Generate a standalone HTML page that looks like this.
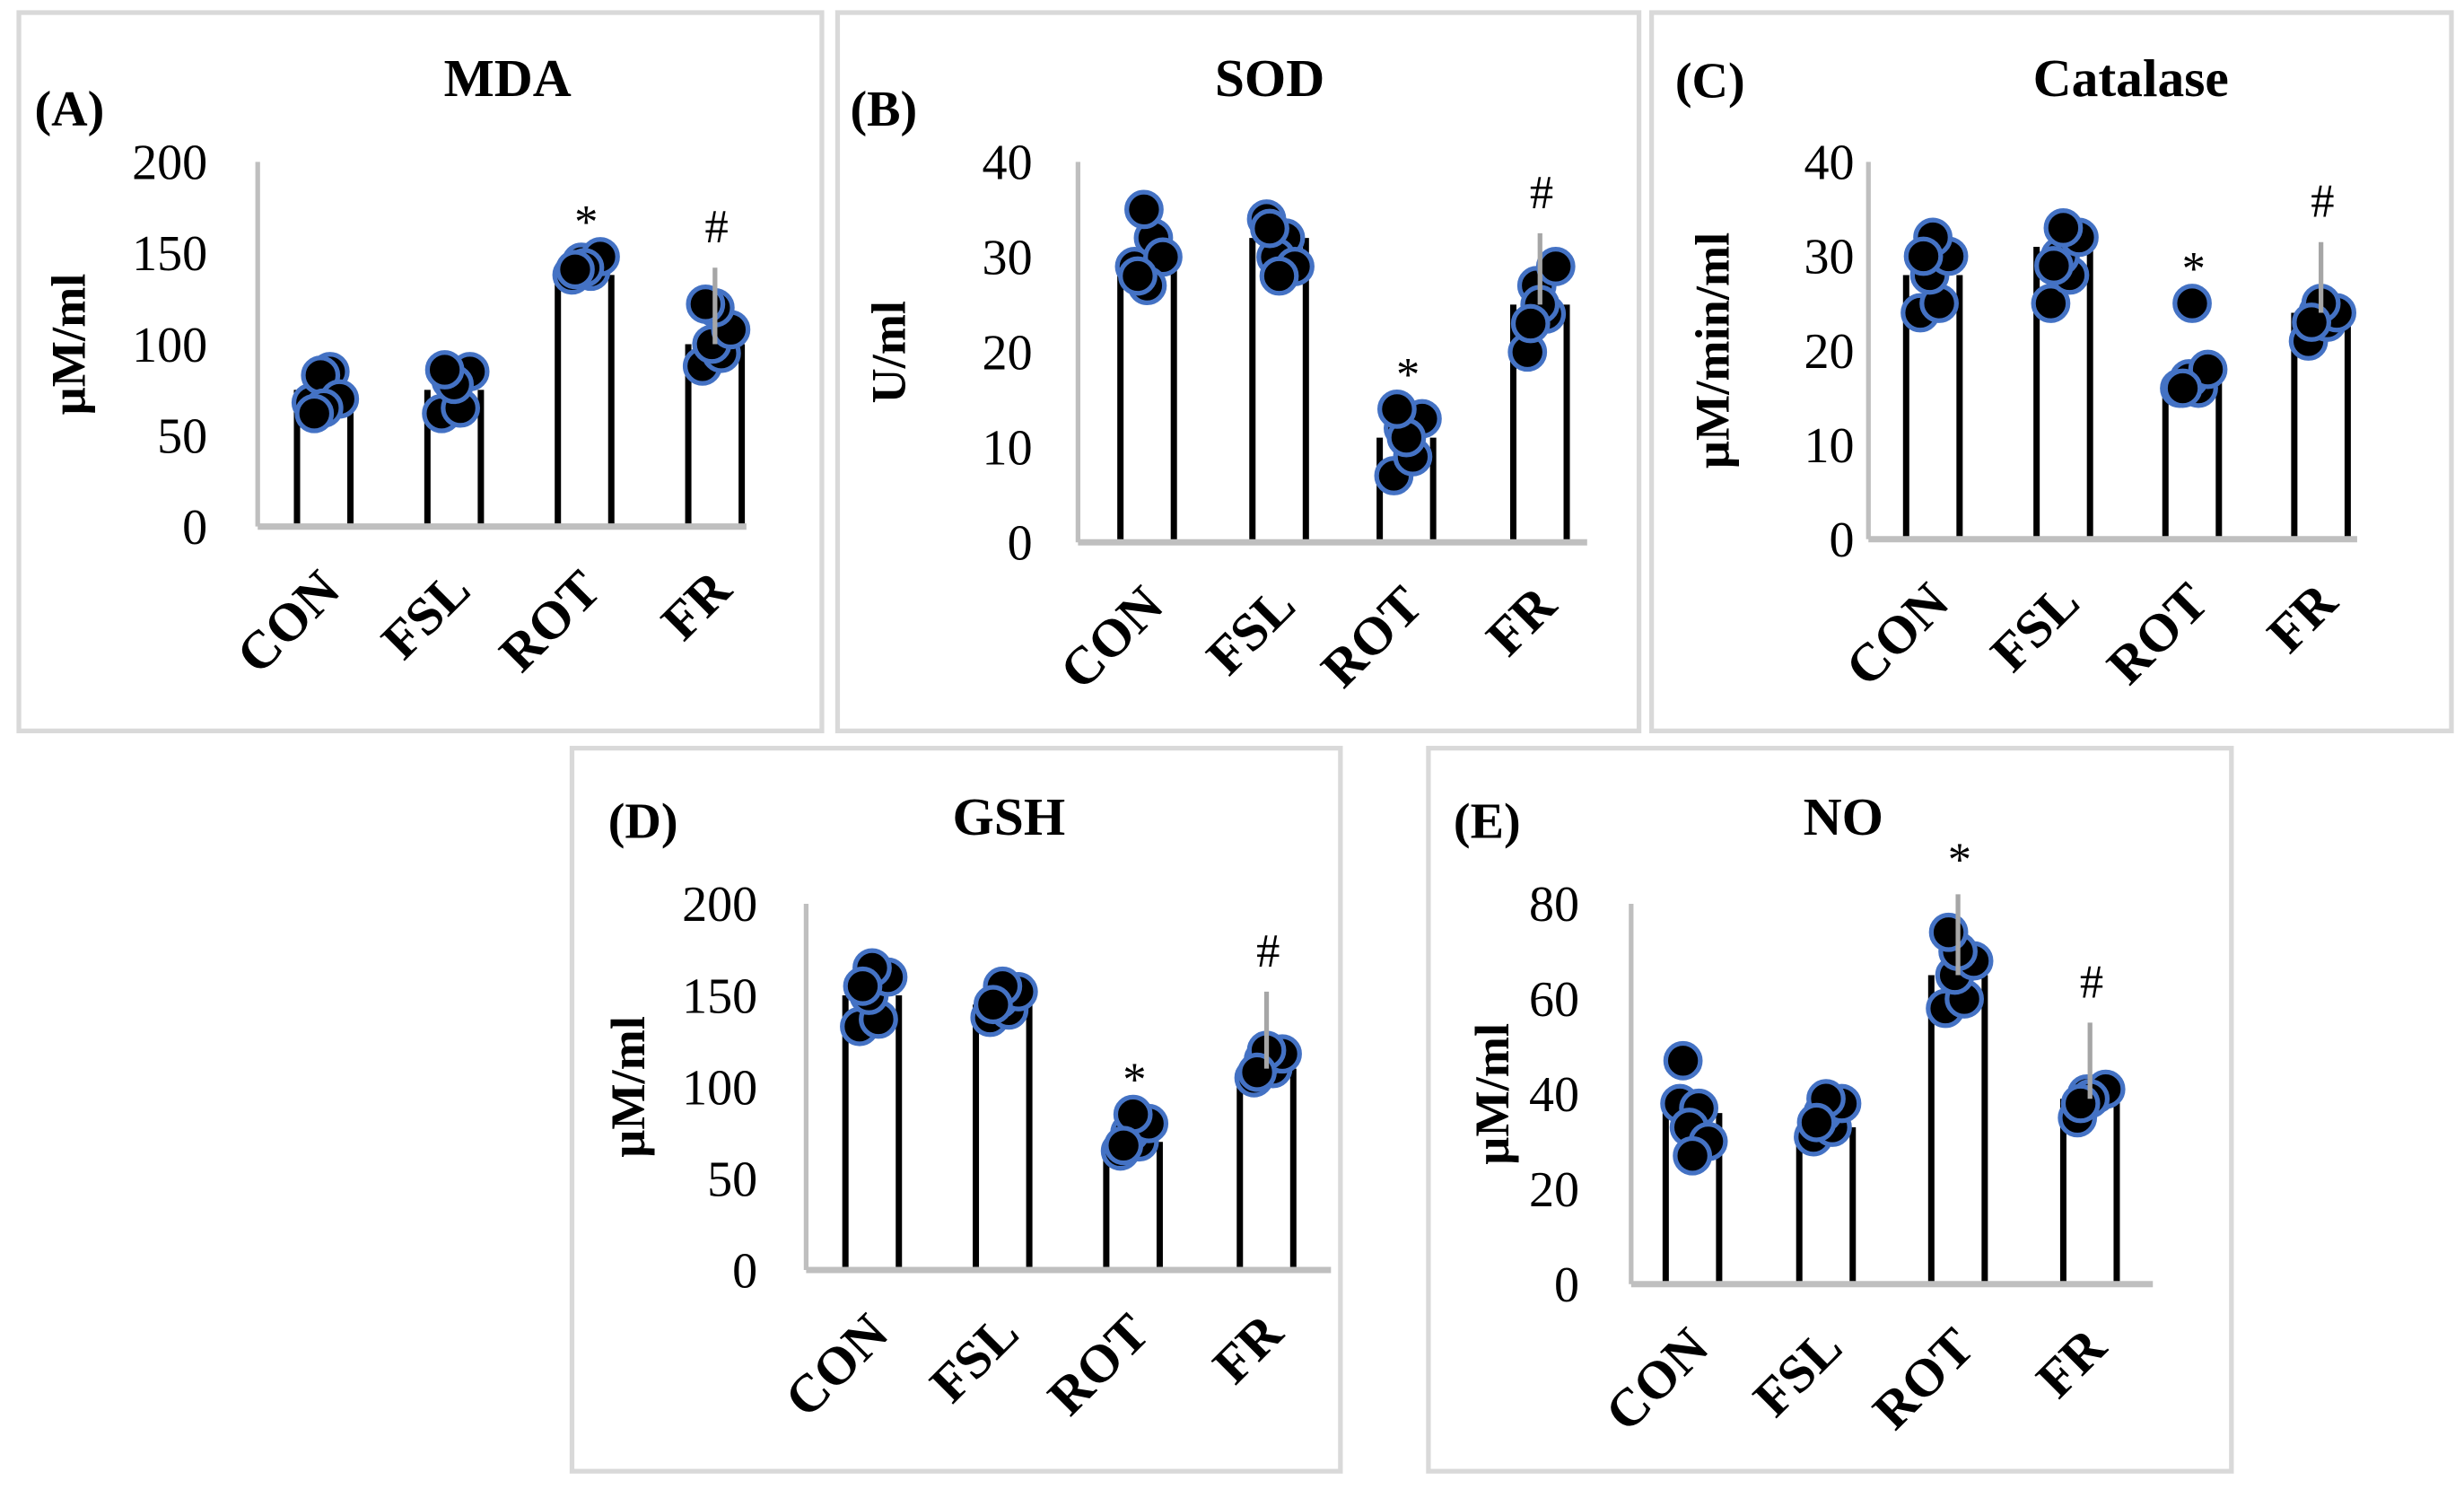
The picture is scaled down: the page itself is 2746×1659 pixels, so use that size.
<!DOCTYPE html>
<html><head><meta charset="utf-8"><style>
html,body{margin:0;padding:0;background:#fff}
svg{display:block}
text{font-family:"Liberation Serif",serif;fill:#000}
</style></head><body>
<svg id="fig" width="2746" height="1659" viewBox="0 0 1568 947.3" xmlns="http://www.w3.org/2000/svg"></svg>
<script>
const categories = ["CON","FSL","ROT","FR"];
const mdaMeans = [75, 75, 138, 100];
const mdaErr = [0, 0, 0, 142];
const mdaPts = [[68,85,83,70,65,62],[62,65,80,85,78,86],[138,140,145,148,142,141],[88,95,100,108,120,122]];
const sodMeans = [30, 32, 11, 25];
const sodErr = [0, 0, 0, 32.5];
const sodPts = [[29,32,35,30,27,28],[34,32,30,29,28,33],[7,9,12,13,11,14],[20,24,27,29,25,23]];
const catMeans = [28, 31, 17, 24];
const catErr = [0, 0, 0, 31.5];
const catPts = [[24,25,28,30,32,30],[25,28,30,32,33,29],[16,16,17,18,25,16],[21,23,24,24,25,23]];
const gshMeans = [150, 145, 70, 110];
const gshErr = [0, 0, 0, 152];
const gshPts = [[133,137,150,160,165,155],[138,142,148,152,155,145],[65,70,75,80,85,68],[105,110,115,118,120,108]];
const noMeans = [36, 33, 65, 39];
const noErr = [0, 0, 82, 55];
const noPts = [[38,37,33,30,27,47],[31,33,36,38,39,34],[58,60,65,68,70,74],[35,40,40,41,39,38]];
const yTicks5 = [0,50,100,150,200];
const yTicks40 = [0,10,20,30,40];
const yTicks80 = [0,20,40,60,80];

const NS="http://www.w3.org/2000/svg";
const svg=document.getElementById('fig');
function mk(tag,attrs,parent){const e=document.createElementNS(NS,tag);for(const k in attrs)e.setAttribute(k,attrs[k]);(parent||svg).appendChild(e);return e;}
const jitter=[-8,4,-2,10,0,-6];

const panels=[
 {id:'a',letter:'(A)',title:'MDA',ylab:'µM/ml',box:[12,8,511,457],ax:164,top:103,base:335,right:475,max:200,ticks:yTicks5,centers:[206,289,372,455],means:mdaMeans,err:mdaErr,pts:mdaPts,marks:{2:'*',3:'#'},letterX:22,letterY:80,titleX:323,titleY:61,ylabX:54,tickX:132},
 {id:'b',letter:'(B)',title:'SOD',ylab:'U/ml',box:[533,8,510,457],ax:686,top:103,base:345,right:1010,max:40,ticks:yTicks40,centers:[730,814,895,980],means:sodMeans,err:sodErr,pts:sodPts,marks:{2:'*',3:'#'},letterX:541,letterY:80,titleX:808,titleY:61,ylabX:576,tickX:657},
 {id:'c',letter:'(C)',title:'Catalase',ylab:'µM/min/ml',box:[1051,8,509,457],ax:1189,top:103,base:343,right:1500,max:40,ticks:yTicks40,centers:[1230,1313,1395,1477],means:catMeans,err:catErr,pts:catPts,marks:{2:'*',3:'#'},letterX:1066,letterY:62,titleX:1356,titleY:61,ylabX:1100,tickX:1180},
 {id:'d',letter:'(D)',title:'GSH',ylab:'µM/ml',box:[364,476,489,460],ax:513,top:575,base:808,right:847,max:200,ticks:yTicks5,centers:[555,638,721,806],means:gshMeans,err:gshErr,pts:gshPts,marks:{2:'*',3:'#'},letterX:387,letterY:533,titleX:642,titleY:531,ylabX:410,tickX:482},
 {id:'e',letter:'(E)',title:'NO',ylab:'µM/ml',box:[909,476,511,460],ax:1038,top:575,base:817,right:1370,max:80,ticks:yTicks80,centers:[1077,1162,1246,1330],means:noMeans,err:noErr,pts:noPts,marks:{2:'*',3:'#'},letterX:925,letterY:533,titleX:1173,titleY:531,ylabX:960,tickX:1005}
];

panels.forEach(p=>{
 const g=mk('g',{});
 
 
 const [bx,by,bw,bh]=p.box;
 const fr=mk('rect',{x:bx,y:by,width:bw,height:bh,fill:'none',stroke:'#d9d9d9','stroke-width':3},g);
 
 
 const y=v=>p.base-(v/p.max)*(p.base-p.top);
 const lt=mk('text',{x:p.letterX,y:p.letterY,'font-size':32,'font-weight':'bold'},g);lt.textContent=p.letter;
 
 
 const tt=mk('text',{x:p.titleX,y:p.titleY,'font-size':34,'font-weight':'bold','text-anchor':'middle'},g);tt.textContent=p.title;
 
 
 const yl=mk('text',{x:0,y:0,'font-size':31,'font-weight':'bold','text-anchor':'middle',transform:`translate(${p.ylabX},${(p.top+p.base)/2}) rotate(-90)`},g);yl.textContent=p.ylab;
 
 
 p.ticks.forEach(t=>{
  const e=mk('text',{x:p.tickX,y:y(t)+11,'font-size':32,'text-anchor':'end'},g);e.textContent=t;
  
  
 });
 const bw2=17;
 p.centers.forEach((c,i)=>{
  const top=y(p.means[i]);
  const b=mk('rect',{x:c-bw2,y:top,width:2*bw2,height:p.base-top,fill:'#fff'},g);
  
  
  mk('line',{x1:c-bw2,x2:c-bw2,y1:top,y2:p.base,stroke:'#000','stroke-width':4},g);
  mk('line',{x1:c+bw2,x2:c+bw2,y1:top,y2:p.base,stroke:'#000','stroke-width':4},g);
 });
 const axy=mk('line',{x1:p.ax,x2:p.ax,y1:p.top,y2:p.base,stroke:'#bfbfbf','stroke-width':3},g);
 
 
 const axx=mk('line',{x1:p.ax,x2:p.right,y1:p.base,y2:p.base,stroke:'#bfbfbf','stroke-width':4},g);
 
 
 p.centers.forEach((c,i)=>{
  p.pts[i].forEach((v,j)=>{
   const pt=mk('circle',{cx:c+jitter[j],cy:y(v),r:11,fill:'#000',stroke:'#4472c4','stroke-width':3},g);
   
   
  });
  if(p.err[i]>0){
   const eb=mk('line',{x1:c,x2:c,y1:y(p.means[i]),y2:y(p.err[i]),stroke:'#a6a6a6','stroke-width':3},g);
   
   
  }
  if(p.marks[i]){
   const topv=Math.max(p.err[i],...p.pts[i]);
   const m=mk('text',{x:c+1,y:y(topv)-(p.marks[i]=='*'?12:16),'font-size':30,'text-anchor':'middle'},g);m.textContent=p.marks[i];
   
   
  }
  const cl=mk('text',{x:0,y:0,'font-size':34,'font-weight':'bold','text-anchor':'end',transform:`translate(${c+12},${p.base+42}) rotate(-45)`},g);cl.textContent=categories[i];
  
  
 });
});
</script>
</body></html>
